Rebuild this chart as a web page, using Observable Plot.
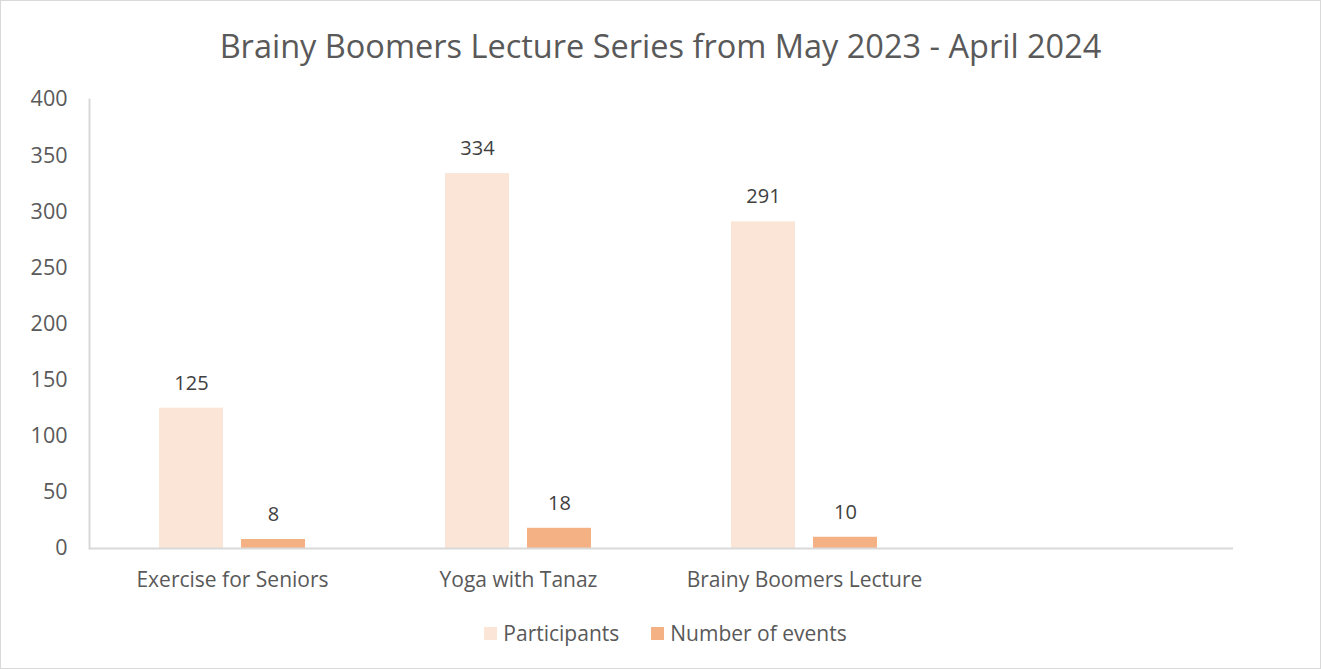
<!DOCTYPE html>
<html>
<head>
<meta charset="utf-8">
<script src="https://cdn.jsdelivr.net/npm/d3@7"></script>
<script src="https://cdn.jsdelivr.net/npm/@observablehq/plot@0.6"></script>
<style>
  body { margin: 0; background: #fff; }
  #chart { position: relative; width: 1321px; height: 669px; outline: 1px solid #d9d9d9; outline-offset: -1px; font-family: "Open Sans", Lato, sans-serif; color: #595959; overflow: hidden; }
  #title { position: absolute; left: 0; width: 1321px; top: 24px; text-align: center; font-size: 32.5px; line-height: 44px; color: #595959; }
  #plot { position: absolute; left: 0; top: 0; }
  #legend { position: absolute; left: 0; width: 1321px; top: 620px; display: flex; justify-content: center; align-items: center; gap: 32px; font-size: 21px; line-height: 26px; color: #595959; padding-left: 10px; box-sizing: border-box; }
  .item { display: flex; align-items: center; gap: 6px; }
  .sw { width: 13px; height: 13px; display: inline-block; }
</style>
</head>
<body>
<div id="chart">
  <div id="title">Brainy Boomers Lecture Series from May 2023 - April 2024</div>
  <div id="plot"></div>
  <div id="legend"></div>
</div>
<script>
const categories = ["Exercise for Seniors", "Yoga with Tanaz", "Brainy Boomers Lecture", " "];
const participants = [125, 334, 291, null];
const numberOfEvents = [8, 18, 10, null];
const seriesNames = ["Participants", "Number of events"];
const seriesColors = ["#FBE5D6", "#F4B183"];
const yTicks = [0, 50, 100, 150, 200, 250, 300, 350, 400];

const data = categories.flatMap((c, i) => [
  {category: c, series: seriesNames[0], value: participants[i]},
  {category: c, series: seriesNames[1], value: numberOfEvents[i]}
]);

const font = "'Open Sans', Lato, sans-serif";

const chart = Plot.plot({
  width: 1321,
  height: 669,
  marginTop: 99,
  marginBottom: 121,
  marginLeft: 89,
  marginRight: 88,
  style: {fontFamily: font, fontSize: "20px", color: "#595959", background: "transparent"},
  fx: {domain: categories, padding: 0, label: null},
  x: {domain: seriesNames, paddingInner: 0.216, paddingOuter: 0.85, axis: null},
  y: {domain: [0, 400], label: null},
  color: {domain: seriesNames, range: seriesColors},
  marks: [
    Plot.barY(data, {fx: "category", x: "series", y: "value", fill: "series"}),
    Plot.text(data.filter(d => d.value != null), {fx: "category", x: "series", y: "value", text: d => String(d.value), dy: -25, fill: "#404040", fontSize: 20}),
    Plot.ruleY([0], {stroke: "#d9d9d9", strokeWidth: 2}),
    Plot.frame({anchor: "left", facetAnchor: "left", stroke: "#d9d9d9", strokeWidth: 2}),
    Plot.axisY({ticks: yTicks, tickSize: 0, tickPadding: 22, label: null, fill: "#595959", fontSize: 21.5}),
    Plot.axisFx({anchor: "bottom", tickSize: 0, tickPadding: 24, label: null, fill: "#595959", fontSize: 21})
  ]
});
document.getElementById("plot").appendChild(chart);

const legend = document.getElementById("legend");
seriesNames.forEach((name, i) => {
  const item = document.createElement("div");
  item.className = "item";
  const sw = document.createElement("span");
  sw.className = "sw";
  sw.style.background = seriesColors[i];
  const label = document.createElement("span");
  label.textContent = name;
  item.appendChild(sw);
  item.appendChild(label);
  legend.appendChild(item);
});
</script>
</body>
</html>
